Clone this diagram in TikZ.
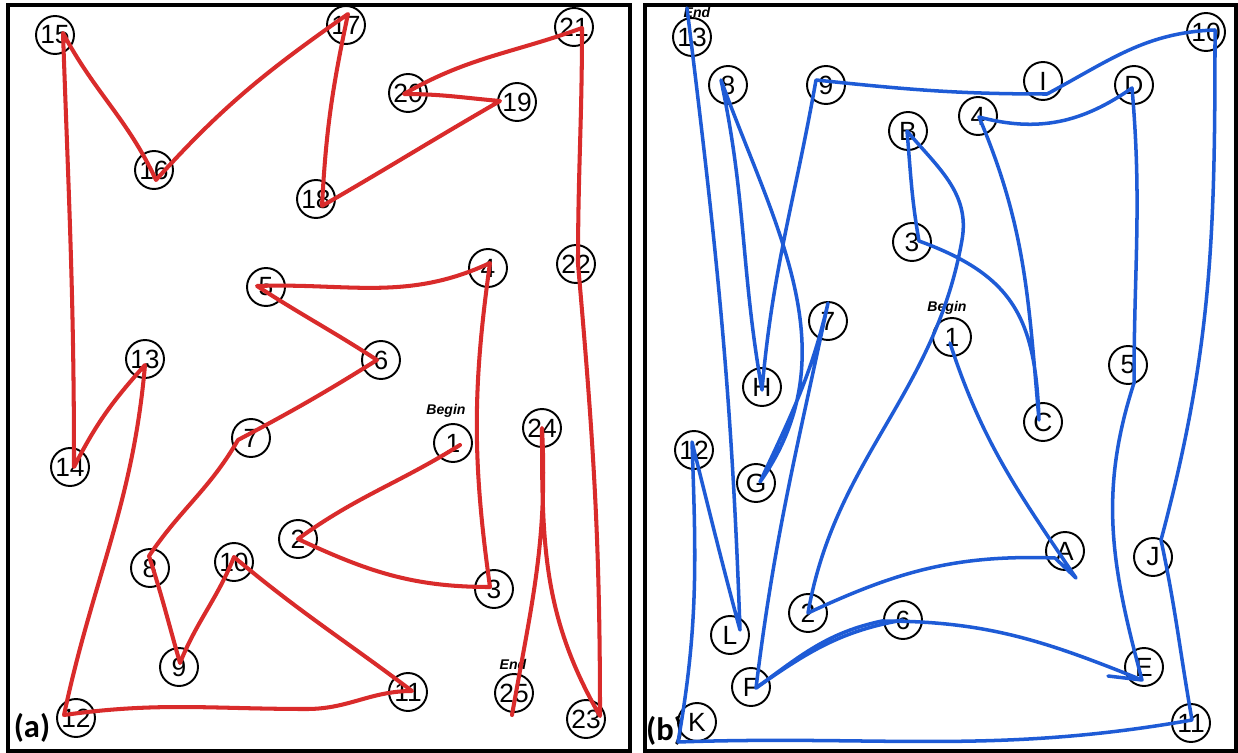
\documentclass[tikz,border=0pt]{standalone}
\usepackage{fontspec}
\setmainfont{Liberation Sans}
\newfontfamily\labfont{Carlito}
\definecolor{trailred}{HTML}{D92B2B}
\definecolor{trailblue}{HTML}{1E5BD6}
\tikzset{
  circ/.style={circle,draw=black,line width=1.1pt,minimum size=0.76cm,inner sep=0pt,font=\fontsize{15pt}{15pt}\selectfont},
  redtrail/.style={draw=trailred,line width=2.3pt,line cap=round,line join=round},
  bluetrail/.style={draw=trailblue,line width=2pt,line cap=round,line join=round},
  panel/.style={draw=black,line width=1.8pt},
  note/.style={font=\fontsize{8pt}{8pt}\selectfont\bfseries\itshape,inner sep=0pt},
  tag/.style={font=\labfont\fontsize{18.5pt}{18.5pt}\selectfont\bfseries,inner sep=0pt}
}
\begin{document}
\begin{tikzpicture}[x=0.02cm,y=0.02cm]
\fill[white] (0,0) rectangle (1238,-753);
\useasboundingbox (0,0) rectangle (1238,-753);
\draw[panel] (8,-5) rectangle (630,-751);
\draw[panel] (645,-5) rectangle (1236,-751);
% panel (a) circles
\foreach \n/\t/\x/\y in {a1/1/453/-443,a2/2/298/-539,a3/3/494/-589,a4/4/488/-268,a5/5/266/-287,
  a6/6/381/-360,a7/7/251/-438,a8/8/150/-568,a9/9/179/-667,a10/10/234/-562,a11/11/408/-692,
  a12/12/76/-718,a13/13/145/-359,a14/14/70/-467,a15/15/55/-35,a16/16/154/-170,a17/17/346/-25,
  a18/18/316/-199,a19/19/517/-102,a20/20/408/-93,a21/21/574/-27,a22/22/576/-264,a23/23/586/-719,
  a24/24/542/-428,a25/25/514/-693}
  {\node[circ] (\n) at (\x,\y) {\t};}
% panel (b) circles
\foreach \n/\t/\x/\y in {b1/1/952/-337,bA/A/1065/-551,b2/2/808/-613,bB/B/908/-131,b3/3/912/-242,
  bC/C/1043/-422,b4/4/978/-116,bD/D/1134/-85,b5/5/1128/-365,bE/E/1144/-667,b6/6/903/-620,
  bF/F/751/-687,b7/7/828/-321,bG/G/756/-483,b8/8/728/-85,bH/H/762/-387,b9/9/826/-85,
  bI/I/1043/-81,b10/10/1206/-32,bJ/J/1153/-557,b11/11/1191/-723,bK/K/697/-722,b12/12/694/-450,
  bL/L/730/-635,b13/13/692/-37}
  {\node[circ] (\n) at (\x,\y) {\t};}
% labels
\node[note] (begina) at (446,-411) {Begin};
\node[note] (enda) at (513,-664) {End};
\node[note] (beginb) at (947,-308) {Begin};
\node[note] (endb) at (697,-12) {End};
\node[tag] (taga) at (32,-728) {(a)};
\node[tag] (tagb) at (665,-731) {(b)};
% pen points
\foreach \n/\dx/\dy in {a1/7/-2,a2/0/0,a3/-4/2,a4/2/5,a5/-9/1,a6/-4/0,a7/-13/-2,a8/-1/12,
  a9/1/4,a10/0/5,a11/4/1,a12/-12/3,a13/0/-6,a14/4/0,a15/8/2,a16/2/-10,a17/2/11,a18/6/-7,
  a19/-17/1,a20/-4/-1,a21/8/-1,a22/2/0,a23/14/3,a24/0/0,a25/-2/-22,
  b1/-2/-6,bA/11/-27,b2/0/0,bB/-1/0,b3/7/1,bC/-4/2,b4/1/-1,bD/-2/-3,b5/6/-18,bE/-2/-13,
  b6/-21/-1,bF/5/-1,b7/0/18,bG/4/1,b8/-7/5,bH/0/-3,b9/-10/5,bI/4/-13,b10/9/2,bJ/8/17,
  b11/1/3,bK/-19/-20,b12/-2/8,bL/10/5,b13/-5/29}
  {\coordinate (p\n) at ([shift={(\dx,\dy)}]\n.center);}
\coordinate (w11) at (307,-709);
\coordinate (wA) at (1055,-558);
\coordinate (wB) at (962,-240);
\coordinate (wE) at (1108,-676);
% trail (a)
\draw[redtrail] (pa1) to[out=212,in=36] (pa2)
  to[out=-25,in=180] (pa3)
  to[out=98,in=-98] (pa4)
  to[out=205,in=2] (pa5)
  to[out=-33,in=147] (pa6)
  to[out=212,in=28] (pa7)
  to[out=240,in=56] (pa8)
  to[out=-72,in=106] (pa9)
  to[out=68,in=-112] (pa10)
  to[out=-40,in=143] (pa11)
  to[out=180,in=0] (w11)
  to[out=180,in=8] (pa12)
  to[out=78,in=-95] (pa13)
  to[out=228,in=63] (pa14)
  to[out=90,in=-88] (pa15)
  to[out=-62,in=115] (pa16)
  to[out=48,in=215] (pa17)
  to[out=-102,in=87] (pa18)
  to[out=30,in=210] (pa19)
  to[out=175,in=0] (pa20)
  to[out=30,in=200] (pa21)
  to[out=-90,in=90] (pa22)
  to[out=-85,in=90] (pa23)
  to[out=120,in=-90] (pa24)
  to[out=-87,in=80] (pa25);
% trail (b)
\draw[bluetrail] (pb1) to[out=-72,in=124] (pbA)
  -- (wA)
  to[out=178,in=25] (pb2)
  to[out=80,in=-100] (wB)
  to[out=80,in=-50] (pbB)
  to[out=-85,in=100] (pb3)
  to[out=-20,in=92,looseness=1.2] (pbC)
  to[out=95,in=-67] (pb4)
  to[out=-15,in=215] (pbD)
  to[out=-85,in=90] (pb5)
  to[out=-108,in=105] (pbE)
  -- (wE) -- (pbE)
  to[out=158,in=0] (pb6)
  to[out=192,in=36] (pbF)
  to[out=83,in=-102] (pb7)
  to[out=-103,in=65] (pbG)
  to[out=55,in=-70] (pb8)
  to[out=-78,in=100] (pbH)
  to[out=85,in=-100] (pb9)
  to[out=-6,in=180] (pbI)
  to[out=28,in=182] (pb10)
  to[out=-90,in=75] (pbJ)
  to[out=-78,in=100] (pb11)
  to[out=190,in=2] (pbK)
  to[out=80,in=-88] (pb12)
  to[out=-76,in=105] (pbL)
  to[out=92,in=-83] (pb13);
\draw[bluetrail] (pbF) to[out=35,in=190] (b6.center);
\end{tikzpicture}
\end{document}
